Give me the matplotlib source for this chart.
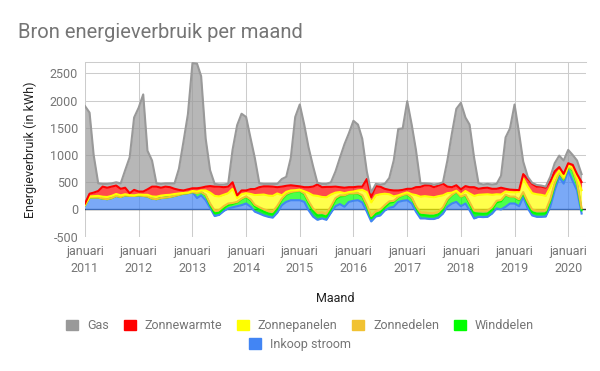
import matplotlib
matplotlib.use('Agg')
import matplotlib.pyplot as plt
import matplotlib.patches as mpatches
import numpy as np
import pandas as pd

plt.rcParams['font.family'] = ['Roboto', 'DejaVu Sans']

# maandelijkse data, januari 2011 t/m april 2020 (kWh)
maanden = pd.date_range('2011-01-01', periods=112, freq='MS')

inkoop_stroom = [
    80, 220, 220, 220, 200, 190, 210, 250, 230, 260, 250, 250,        # 2011
    260, 250, 240, 200, 190, 210, 220, 230, 250, 270, 290, 300,       # 2012
    320, 210, 260, 170, 30, -120, -100, -30, 20, 40, 60, 80,          # 2013
    110, 50, -40, -75, -110, -135, -150, -60, 80, 140, 170, 170,      # 2014
    170, 140, -10, -130, -190, -165, -190, -60, 60, 100, 50, 140,     # 2015
    160, 170, 130, -40, -220, -130, -110, -20, 30, 50, 140, 160,      # 2016
    170, 110, -40, -165, -165, -175, -175, -150, -75, 50, 110, 140,   # 2017
    60, 110, -15, -165, -135, -140, -135, -75, 20, 0, 50, 110,        # 2018
    110, 60, 230, 20, -110, -135, -135, -130, 50, 350, 595, 475,      # 2019
    715, 520, 350, -75,                                               # 2020
]
winddelen = [
    0, 0, 0, 0, 0, 0, 0, 0, 0, 0, 0, 0,
    0, 0, 0, 0, 0, 0, 0, 0, 0, 0, 0, 0,
    0, 90, 60, 90, 50, 50, 40, 50, 60, 60, 70, 110,
    120, 120, 100, 80, 70, 60, 60, 80, 100, 130, 140, 160,
    170, 140, 140, 110, 80, 60, 60, 70, 120, 140, 200, 150,
    130, 120, 110, 100, 60, 50, 60, 60, 90, 90, 80, 100,
    110, 100, 80, 70, 60, 60, 60, 60, 80, 120, 150, 180,
    170, 150, 125, 100, 60, 60, 60, 70, 110, 150, 210, 120,
    120, 110, 60, 80, 60, 60, 60, 60, 100, 100, 70, 80,
    70, 200, 120, 60,
]
zonnedelen = [
    0, 0, 0, 0, 0, 0, 0, 0, 0, 0, 0, 0,
    0, 0, 0, 0, 0, 0, 0, 0, 0, 0, 0, 0,
    0, 0, 0, 10, 30, 50, 50, 40, 30, 20, 10, 10,
    10, 15, 25, 35, 45, 50, 50, 45, 20, 15, 10, 5,
    5, 15, 25, 40, 50, 55, 55, 45, 30, 20, 10, 5,
    5, 10, 20, 30, 40, 50, 50, 40, 30, 20, 10, 5,
    5, 10, 25, 40, 50, 50, 50, 45, 35, 20, 10, 5,
    5, 10, 25, 45, 55, 55, 55, 45, 30, 25, 10, 5,
    5, 15, 30, 40, 50, 55, 55, 50, 40, 30, 15, 10,
    5, 10, 20, 40,
]
zonnepanelen = [
    10, 20, 25, 30, 35, 40, 40, 35, 30, 20, 15, 10,
    15, 20, 30, 40, 45, 45, 45, 40, 35, 25, 15, 10,
    20, 30, 30, 80, 200, 270, 250, 210, 190, 260, 70, 80,
    60, 100, 180, 230, 270, 280, 290, 230, 60, 40, 30, 20,
    20, 40, 150, 240, 310, 280, 300, 220, 100, 60, 40, 25,
    35, 50, 100, 230, 250, 290, 280, 210, 130, 80, 30, 25,
    30, 60, 200, 290, 300, 300, 290, 290, 220, 110, 40, 20,
    40, 70, 160, 270, 290, 300, 300, 230, 120, 100, 60, 85,
    80, 140, 250, 280, 300, 300, 290, 270, 220, 120, 40, 30,
    20, 40, 100, 330,
]
zonnewarmte = [
    20, 50, 65, 90, 185, 170, 170, 155, 120, 120, 35, 100,
    55, 60, 100, 180, 185, 145, 155, 140, 95, 65, 45, 60,
    50, 60, 50, 70, 120, 170, 180, 140, 120, 120, 50, 70,
    50, 90, 110, 140, 150, 170, 170, 115, 160, 110, 95, 80,
    60, 75, 105, 160, 210, 180, 190, 140, 110, 90, 100, 90,
    80, 70, 60, 240, 100, 170, 140, 90, 80, 110, 90, 70,
    65, 100, 145, 180, 200, 210, 185, 195, 215, 120, 100, 100,
    95, 90, 115, 160, 110, 120, 120, 110, 100, 125, 50, 45,
    45, 30, 80, 140, 170, 140, 150, 150, 110, 100, 60, 60,
    40, 50, 60, 150,
]
gas = [
    1790, 1490, 690, 140, 50, 70, 60, 60, 100, 320, 660, 1330,
    1540, 1785, 710, 480, 60, 70, 60, 70, 100, 390, 900, 1380,
    2300, 2290, 2050, 880, 290, 50, 40, 50, 50, 600, 1290, 1410,
    1350, 925, 575, 70, 45, 45, 50, 60, 140, 165, 505, 1265,
    1505, 1140, 740, 380, 30, 60, 55, 85, 280, 540, 800, 990,
    1220, 1140, 880, 140, 80, 40, 40, 90, 220, 550, 1130, 1130,
    1610, 1170, 690, 65, 35, 30, 50, 30, 25, 480, 990, 1405,
    1590, 1260, 1150, 540, 100, 65, 70, 80, 90, 220, 945, 1125,
    1570, 1045, 230, 40, 20, 30, 20, 20, 80, 150, 210, 245,
    245, 180, 250, 145,
]

namen = ['Gas', 'Zonnewarmte', 'Zonnepanelen', 'Zonnedelen', 'Winddelen', 'Inkoop stroom']
kleuren = {'Gas': '#999999', 'Zonnewarmte': '#ff0000', 'Zonnepanelen': '#ffff00',
           'Zonnedelen': '#f1c232', 'Winddelen': '#00ff00', 'Inkoop stroom': '#4285f4'}

# stapel van onder naar boven
stapel_namen = ['Inkoop stroom', 'Winddelen', 'Zonnedelen', 'Zonnepanelen', 'Zonnewarmte', 'Gas']
stapel_data = [inkoop_stroom, winddelen, zonnedelen, zonnepanelen, zonnewarmte, gas]
boven = np.cumsum(np.array(stapel_data, dtype=float), axis=0)
onder = np.vstack([np.zeros(len(maanden)), boven[:-1]])

fig = plt.figure(figsize=(6, 3.71), dpi=100)
ax = fig.add_axes([85 / 600, 134.3 / 371, 501 / 600, 174.4 / 371])

for i, naam in enumerate(stapel_namen):
    ax.fill_between(maanden, onder[i], boven[i], color=kleuren[naam], alpha=0.7, lw=0, zorder=2)
for i, naam in enumerate(stapel_namen):
    ax.plot(maanden, boven[i], color=kleuren[naam], lw=1.5, zorder=3)

ax.axhline(0, color='#333333', lw=1, zorder=1.5)

ax.set_xlim(pd.Timestamp('2011-01-01'), pd.Timestamp('2020-05-01'))
ax.set_ylim(-500, 2705)

jaren = pd.date_range('2011-01-01', '2020-01-01', freq='YS')
ax.set_xticks(jaren)
ax.set_xticklabels(['januari\n%d' % j.year for j in jaren], linespacing=1.35)
ax.set_yticks(range(-500, 3000, 500))
ax.set_yticklabels([str(v) for v in range(-500, 3000, 500)])
ax.tick_params(axis='both', length=0, labelsize=9, colors='#757575')
ax.tick_params(axis='x', pad=6)
ax.tick_params(axis='y', pad=5)

ax.grid(True, color='#cccccc', lw=0.75, zorder=0)
ax.set_axisbelow(True)
for kant in ['left', 'right', 'bottom']:
    ax.spines[kant].set_visible(False)
ax.spines['top'].set_color('#cccccc')
ax.spines['top'].set_linewidth(0.75)

ax.set_ylabel('Energieverbruik (in kWh)', fontsize=9, color='#222222', labelpad=9)
fig.text(335 / 600, 1 - 298 / 371, 'Maand', fontsize=9, color='#222222', ha='center', va='center')
fig.text(18 / 600, 1 - 32 / 371, 'Bron energieverbruik per maand', fontsize=14.5,
         color='#757575', ha='left', va='center')

# legenda in twee rijen
rij1 = [mpatches.Patch(color=kleuren[n], label=n) for n in namen[:5]]
rij2 = [mpatches.Patch(color=kleuren[n], label=n) for n in namen[5:]]
opties = dict(frameon=False, fontsize=9, handlelength=0.95, handleheight=0.95,
              handletextpad=0.7, columnspacing=1.2, labelcolor='#757575')
fig.legend(handles=rij1, ncol=5, loc='center', bbox_to_anchor=(0.5, 1 - 325.7 / 371), **opties)
fig.legend(handles=rij2, ncol=1, loc='center', bbox_to_anchor=(0.5, 1 - 344.3 / 371), **opties)

fig.savefig('out.png', dpi=100, facecolor='white')
